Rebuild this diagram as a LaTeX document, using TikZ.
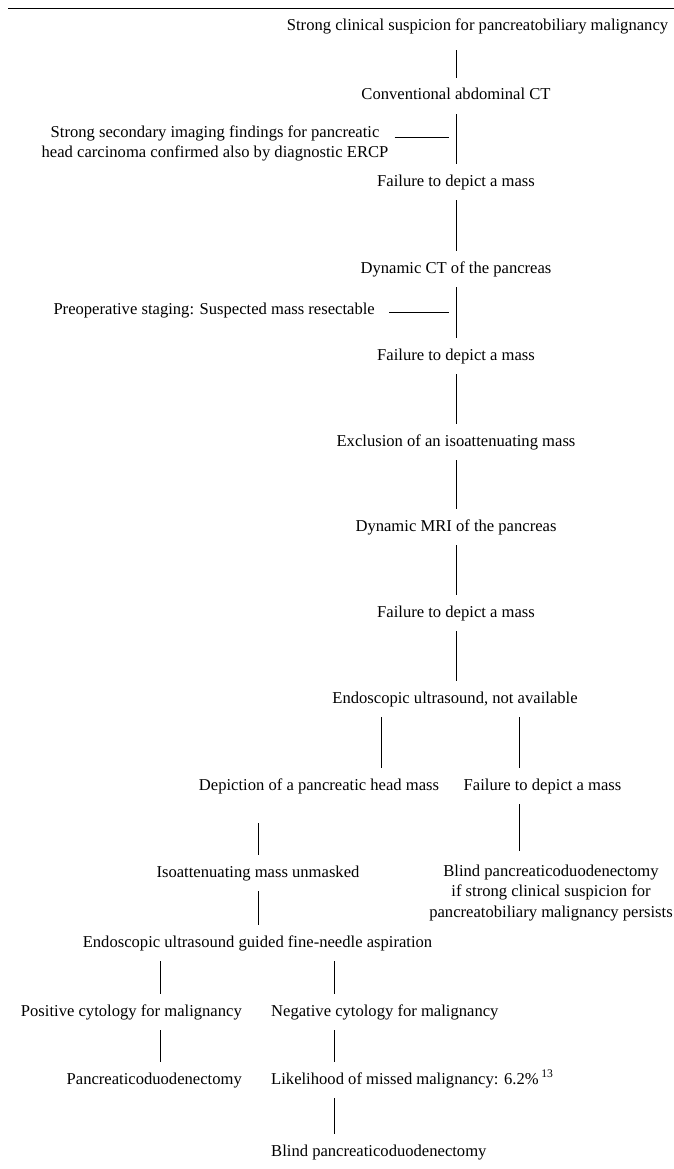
\documentclass[tikz,border=0pt]{standalone}
\usepackage{fontspec}
\setmainfont{Liberation Serif}
\newcommand{\flowfont}{\fontsize{16.6}{20.5}\selectfont}
\begin{document}
\begin{tikzpicture}[x=1pt,y=-1pt,
  lbl/.style={inner sep=0pt, minimum height=36pt, text height=11.5pt, text depth=3.5pt, font=\flowfont},
  multi/.style={inner sep=0pt, align=center, font=\flowfont},
  conn/.style={draw, line width=0.9pt}]
\useasboundingbox (0,0) rectangle (674,1169);
\draw[line width=1pt] (8,9) -- (674,9);

\node[lbl] (n1) at (477.5,27) {Strong clinical suspicion for pancreatobiliary malignancy};
\node[lbl] (n2) at (456,96) {Conventional abdominal CT};
\node[multi] (s1) at (215,143.5) {Strong secondary imaging findings for pancreatic\\head carcinoma confirmed also by diagnostic ERCP};
\node[lbl] (n3) at (456,182) {Failure to depict a mass};
\node[lbl] (n4) at (456,269) {Dynamic CT of the pancreas};
\node[lbl,anchor=east] (s2) at (375,310) {Preoperative staging: Suspected mass resectable};
\node[lbl] (n5) at (456,356) {Failure to depict a mass};
\node[lbl] (n6) at (456,442) {Exclusion of an isoattenuating mass};
\node[lbl] (n7) at (456,527) {Dynamic MRI of the pancreas};
\node[lbl] (n8) at (456,613) {Failure to depict a mass};
\node[lbl] (n9) at (455,699) {Endoscopic ultrasound, not available};
\node[lbl] (n10) at (319,786) {Depiction of a pancreatic head mass};
\node[lbl] (n11) at (542.5,786) {Failure to depict a mass};
\node[lbl] (n12) at (258,873) {Isoattenuating mass unmasked};
\node[multi] (n13) at (551,893) {Blind pancreaticoduodenectomy\\if strong clinical suspicion for\\pancreatobiliary malignancy persists};
\node[lbl] (n14) at (257.5,943) {Endoscopic ultrasound guided fine-needle aspiration};
\node[lbl,anchor=east] (n15) at (242,1012) {Positive cytology for malignancy};
\node[lbl,anchor=west] (n16) at (271,1012) {Negative cytology for malignancy};
\node[lbl,anchor=east] (n17) at (242,1080) {Pancreaticoduodenectomy};
\node[lbl,anchor=west] (n18) at (271,1080) {Likelihood of missed malignancy: 6.2\%\,\textsuperscript{13}};
\node[lbl,anchor=west] (n19) at (271,1152) {Blind pancreaticoduodenectomy};

\coordinate (xs) at (456,0);
\coordinate (xa) at (381,0);
\coordinate (xb) at (519,0);
\coordinate (xc) at (258.5,0);
\coordinate (xd) at (160,0);
\coordinate (xe) at (334,0);

\draw[conn, shorten <=5pt] (n1.south -| xs) -- (n2.north -| xs);
\draw[conn] (n2.south -| xs) -- (n3.north -| xs);
\draw[conn] (n3.south -| xs) -- (n4.north -| xs);
\draw[conn] (n4.south -| xs) -- (n5.north -| xs);
\draw[conn] (n5.south -| xs) -- (n6.north -| xs);
\draw[conn] (n6.south -| xs) -- (n7.north -| xs);
\draw[conn] (n7.south -| xs) -- (n8.north -| xs);
\draw[conn] (n8.south -| xs) -- (n9.north -| xs);
\draw[conn] (n9.south -| xa) -- (n10.north -| xa);
\draw[conn] (n9.south -| xb) -- (n11.north -| xb);
\draw[conn, shorten <=19pt] (n10.south -| xc) -- (n12.north -| xc);
\draw[conn, shorten >=14pt] (n11.south -| xb) -- (n13.north -| xb);
\draw[conn] (n12.south -| xc) -- (n14.north -| xc);
\draw[conn] (n14.south -| xd) -- (n15.north -| xd);
\draw[conn] (n14.south -| xe) -- (n16.north -| xe);
\draw[conn] (n15.south -| xd) -- (n17.north -| xd);
\draw[conn] (n16.south -| xe) -- (n18.north -| xe);
\draw[conn] (n18.south -| xe) -- (n19.north -| xe);

\coordinate (h1) at (449,137);
\coordinate (h2) at (449,312);
\draw[conn, shorten <=6pt] (s1.east |- h1) -- (h1);
\draw[conn, shorten <=14pt] (s2.east |- h2) -- (h2);
\end{tikzpicture}
\end{document}
